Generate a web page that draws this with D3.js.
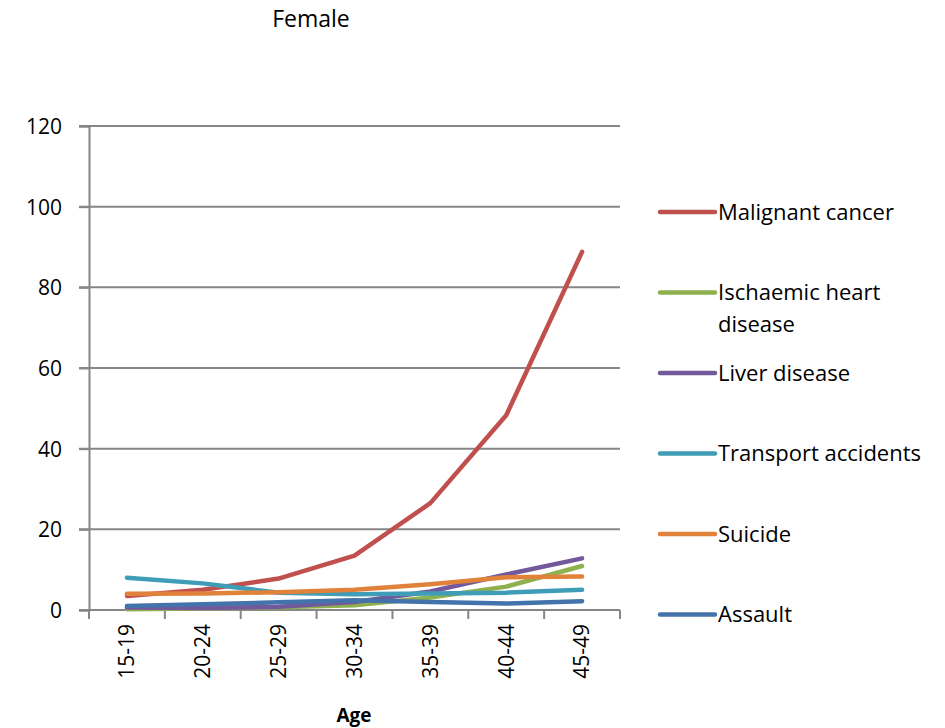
<!DOCTYPE html>
<html>
<head>
<meta charset="utf-8">
<script src="https://cdn.jsdelivr.net/npm/d3@7"></script>
<style>
  body { margin: 0; background: #fff; }
  text { font-family: "Open Sans", Lato, sans-serif; fill: #000; }
</style>
</head>
<body>
<div id="chart"></div>
<script>
// data
const ageGroups = ["15-19", "20-24", "25-29", "30-34", "35-39", "40-44", "45-49"];
const seriesNames = ["Malignant cancer", "Ischaemic heart disease", "Liver disease", "Transport accidents", "Suicide", "Assault"];
const malignant = [3.5, 5.0, 7.8, 13.5, 26.5, 48.3, 88.8];
const ischaemic = [0.2, 0.4, 0.7, 1.2, 3.1, 5.8, 10.9];
const liver = [0.6, 0.5, 0.8, 2.0, 4.6, 8.8, 12.8];
const transport = [8.0, 6.6, 4.3, 3.9, 4.1, 4.3, 5.0];
const suicide = [4.0, 4.1, 4.4, 5.0, 6.4, 8.1, 8.3];
const assault = [1.0, 1.4, 1.9, 2.4, 2.0, 1.6, 2.2];
const yTicks = [0, 20, 40, 60, 80, 100, 120];
const colors = ["#C0504D", "#8EB04E", "#73599B", "#3F9DB7", "#E0823A", "#4472AB"];

const values = [malignant, ischaemic, liver, transport, suicide, assault];
const series = seriesNames.map((name, i) => ({ name: name, color: colors[i], values: values[i] }));

const width = 945, height = 728;
const plot = { left: 89, right: 620, top: 126, bottom: 610 };

const svg = d3.select("#chart").append("svg")
  .attr("width", width)
  .attr("height", height);

const x = d3.scaleBand()
  .domain(ageGroups)
  .range([plot.left, plot.right]);

const y = d3.scaleLinear()
  .domain([0, 120])
  .range([plot.bottom, plot.top]);

// gridlines
svg.append("g")
  .selectAll("line")
  .data(yTicks.slice(1))
  .enter()
  .append("line")
  .attr("x1", plot.left - 10)
  .attr("x2", plot.right)
  .attr("y1", d => y(d))
  .attr("y2", d => y(d))
  .attr("stroke", "#868686")
  .attr("stroke-width", 2);

// y axis
const yAxis = svg.append("g")
  .attr("transform", `translate(${plot.left},0)`)
  .call(d3.axisLeft(y).tickValues(yTicks).tickSize(10).tickPadding(17));
yAxis.select(".domain").attr("stroke", "#868686").attr("stroke-width", 2);
yAxis.selectAll(".tick line").attr("stroke", "#868686").attr("stroke-width", 2);
yAxis.selectAll(".tick text")
  .style("font-size", "21px")
  .attr("fill", "#000")
  .attr("dy", "0.35em");

// x axis: ticks on category boundaries
const boundaries = ageGroups.map(d => x(d)).concat([plot.right]);
svg.append("line")
  .attr("x1", plot.left - 10).attr("x2", plot.right)
  .attr("y1", plot.bottom).attr("y2", plot.bottom)
  .attr("stroke", "#868686").attr("stroke-width", 2);
svg.append("g")
  .selectAll("line")
  .data(boundaries)
  .enter()
  .append("line")
  .attr("x1", d => d).attr("x2", d => d)
  .attr("y1", plot.bottom).attr("y2", plot.bottom + 9)
  .attr("stroke", "#868686").attr("stroke-width", 2);

svg.append("g")
  .selectAll("text")
  .data(ageGroups)
  .enter()
  .append("text")
  .attr("transform", d => `translate(${x(d) + x.bandwidth() / 2},${plot.bottom + 14}) rotate(-90)`)
  .attr("text-anchor", "end")
  .attr("dy", "0.35em")
  .style("font-size", "21px")
  .text(d => d);

// axis title + chart title
svg.append("text")
  .attr("x", 354).attr("y", 722)
  .attr("text-anchor", "middle")
  .style("font-size", "19px")
  .style("font-weight", "bold")
  .text("Age");

svg.append("text")
  .attr("x", 311).attr("y", 27)
  .attr("text-anchor", "middle")
  .style("font-size", "23px")
  .text("Female");

// lines
const line = d3.line()
  .x((d, i) => x(ageGroups[i]) + x.bandwidth() / 2)
  .y(d => y(d));

svg.append("g")
  .selectAll("path")
  .data(series)
  .enter()
  .append("path")
  .attr("d", d => line(d.values))
  .attr("fill", "none")
  .attr("stroke", d => d.color)
  .attr("stroke-width", 4.5)
  .attr("stroke-linejoin", "round")
  .attr("stroke-linecap", "round");

// legend
const legend = svg.append("g")
  .selectAll("g")
  .data(series)
  .enter()
  .append("g")
  .attr("transform", (d, i) => `translate(660,${212 + i * 80.5})`);

legend.append("line")
  .attr("x1", 0).attr("x2", 55)
  .attr("stroke", d => d.color)
  .attr("stroke-width", 4.5)
  .attr("stroke-linecap", "round");

legend.append("text")
  .style("font-size", "22px")
  .each(function (d) {
    const el = d3.select(this);
    const words = d.name.split(" ");
    let tspan = el.append("tspan").attr("x", 58).attr("dy", "0.35em");
    let current = [];
    words.forEach(w => {
      current.push(w);
      tspan.text(current.join(" "));
      if (tspan.node().getComputedTextLength() > 215 && current.length > 1) {
        current.pop();
        tspan.text(current.join(" "));
        current = [w];
        tspan = el.append("tspan").attr("x", 58).attr("dy", "32px").text(w);
      }
    });
  });
</script>
</body>
</html>
